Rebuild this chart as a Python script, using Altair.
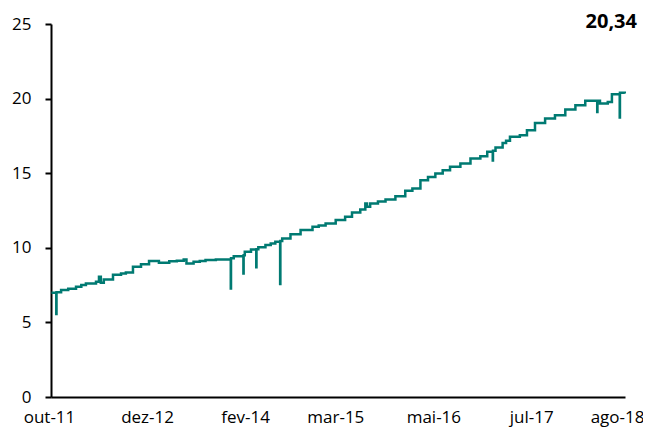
import altair as alt
import pandas as pd

dates = [
    "2011-10-03", "2011-10-24", "2011-10-25", "2011-11-14", "2011-12-15", "2012-01-18",
    "2012-02-10", "2012-03-01", "2012-04-14", "2012-04-27", "2012-05-05", "2012-05-18",
    "2012-06-27", "2012-08-01", "2012-08-22", "2012-09-22", "2012-10-27", "2012-12-01",
    "2013-01-13", "2013-02-27", "2013-04-01", "2013-05-01", "2013-05-13", "2013-06-13",
    "2013-07-10", "2013-08-04", "2013-09-18", "2013-11-22", "2013-11-23", "2013-12-05",
    "2014-01-16", "2014-01-17", "2014-01-22", "2014-02-18", "2014-03-13", "2014-03-14",
    "2014-03-22", "2014-04-22", "2014-05-15", "2014-06-04", "2014-06-25", "2014-06-26",
    "2014-07-04", "2014-08-09", "2014-09-22", "2014-11-13", "2014-12-10", "2015-01-09",
    "2015-02-22", "2015-04-04", "2015-05-04", "2015-06-09", "2015-07-01", "2015-07-08",
    "2015-07-22", "2015-08-25", "2015-09-27", "2015-11-09", "2015-12-22", "2016-01-22",
    "2016-02-26", "2016-03-30", "2016-05-01", "2016-06-02", "2016-07-04", "2016-08-18",
    "2016-10-01", "2016-11-13", "2016-12-13", "2017-01-06", "2017-01-07", "2017-01-18",
    "2017-02-18", "2017-03-05", "2017-03-22", "2017-05-04", "2017-06-04", "2017-07-09",
    "2017-08-22", "2017-10-04", "2017-11-18", "2018-01-01", "2018-02-13", "2018-04-06",
    "2018-04-07", "2018-04-18", "2018-05-22", "2018-06-09", "2018-07-13", "2018-07-14",
    "2018-08-04",
]
values = [
    6.99, 5.56, 7.02, 7.17, 7.25, 7.39,
    7.50, 7.60, 7.72, 8.06, 7.65, 7.88,
    8.20, 8.28, 8.35, 8.73, 8.89, 9.11,
    9.00, 9.10, 9.13, 9.22, 8.95, 9.06,
    9.12, 9.18, 9.22, 7.28, 9.30, 9.44,
    8.28, 9.50, 9.73, 9.89, 8.69, 9.90,
    10.03, 10.18, 10.28, 10.40, 7.57, 10.45,
    10.63, 10.90, 11.19, 11.41, 11.50, 11.63,
    11.86, 12.08, 12.37, 12.57, 12.97, 12.75,
    12.97, 13.10, 13.24, 13.46, 13.82, 13.98,
    14.53, 14.75, 14.98, 15.20, 15.43, 15.65,
    15.99, 16.14, 16.43, 15.85, 16.50, 16.72,
    17.03, 17.17, 17.44, 17.55, 17.88, 18.37,
    18.66, 18.89, 19.27, 19.56, 19.85, 19.11,
    19.85, 19.67, 19.78, 20.29, 18.73, 20.40,
    20.34,
]
last_value_label = ["20,34"]
tick_dates = [(2011, 10), (2012, 12), (2014, 2), (2015, 3), (2016, 5), (2017, 7), (2018, 8)]
y_ticks = [0, 5, 10, 15, 20, 25]

df = pd.DataFrame({"date": dates, "value": values})

month_expr = ("['jan','fev','mar','abr','mai','jun','jul','ago','set','out','nov','dez']"
              "[utcmonth(datum.value)] + '-' + utcFormat(datum.value, '%y')")

line = alt.Chart(df).mark_line(
    interpolate="step-after", color="#007a72", strokeWidth=2.5
).encode(
    x=alt.X(
        "date:T",
        scale=alt.Scale(
            type="utc",
            domain=[alt.DateTime(year=2011, month=10, date=1, utc=True),
                    alt.DateTime(year=2018, month=8, date=5, utc=True)],
        ),
        axis=alt.Axis(
            title=None,
            values=[alt.DateTime(year=y, month=m, date=1, utc=True) for y, m in tick_dates],
            labelExpr=month_expr,
            ticks=False,
            grid=False,
            domainColor="black",
            domainWidth=2,
            labelFont="Open Sans",
            labelFontSize=17,
            labelColor="black",
            labelPadding=12,
            labelFlush=False,
            labelOverlap=False,
            labelOffset=alt.condition("utcyear(datum.value) == 2018", alt.value(-7), alt.value(-2)),
        ),
    ),
    y=alt.Y(
        "value:Q",
        scale=alt.Scale(domain=[0, 25], nice=False),
        axis=alt.Axis(
            title=None,
            values=y_ticks,
            grid=False,
            domainColor="black",
            domainWidth=2,
            tickColor="black",
            tickWidth=2,
            tickSize=6,
            labelFont="Open Sans",
            labelFontSize=17,
            labelColor="black",
            labelPadding=14,
        ),
    ),
)

text = alt.Chart(pd.DataFrame({"t": last_value_label})).mark_text(
    align="right", baseline="alphabetic", fontSize=20, fontWeight="bold",
    font="Open Sans", color="black"
).encode(
    x=alt.value(586), y=alt.value(4), text="t:N"
)

chart = alt.layer(line, text).properties(
    width=574,
    height=373,
    padding={"left": 43, "top": 16, "right": 18, "bottom": 30},
    autosize="none",
).configure_view(stroke=None)

chart.save("out.html", embed_options={"renderer": "svg", "actions": False})
